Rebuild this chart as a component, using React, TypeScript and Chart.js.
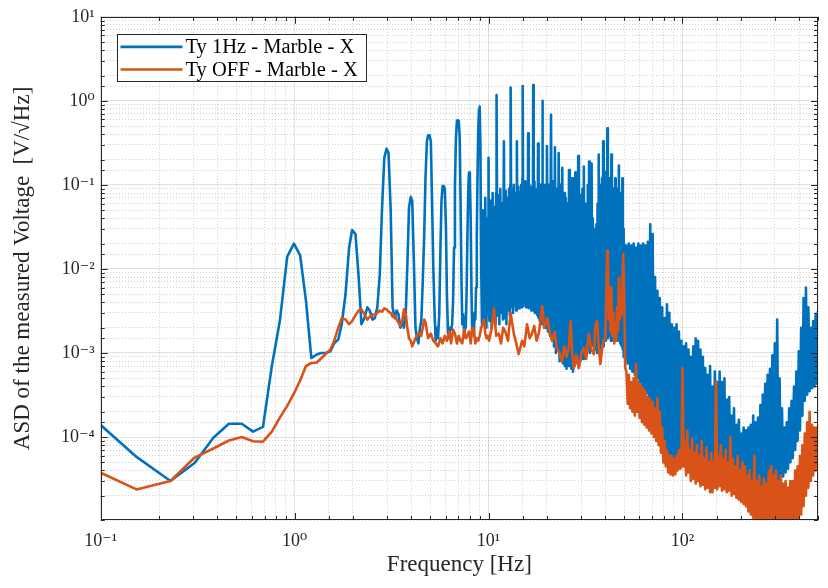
import React, { useEffect, useRef } from 'react';
import { Chart, registerables } from 'chart.js';

Chart.register(...registerables);

// ---------------- data (frequency [Hz], ASD [V/sqrt(Hz)]) ----------------
const seriesLabels = ['Ty 1Hz - Marble - X', 'Ty OFF - Marble - X'];
const seriesColors = ['#0072BD', '#D95319'];

const xTickValues = [0.1, 1, 10, 100];
const xTickLabels = ['10⁻¹', '10⁰', '10¹', '10²'];
const yTickValues = [1e-4, 1e-3, 1e-2, 1e-1, 1, 10];
const yTickLabels = ['10⁻⁴', '10⁻³', '10⁻²', '10⁻¹', '10⁰', '10¹'];

// Ty 1Hz, 0.1 - 9 Hz
const tyOnLow: [number, number][] = [
  [0.1, 1.39e-4], [0.153, 5.8e-5], [0.229, 3.0e-5], [0.305, 4.9e-5], [0.381, 9.8e-5], [0.458, 1.44e-4],
  [0.534, 1.44e-4], [0.61, 1.16e-4], [0.687, 1.32e-4], [0.763, 7.0e-4], [0.839, 2.4e-3], [0.916, 1.4e-2],
  [0.992, 2.0e-2], [1.068, 1.45e-2], [1.144, 4.2e-3], [1.22, 8.7e-4], [1.3, 9.6e-4], [1.37, 1.0e-3],
  [1.45, 1.0e-3], [1.53, 1.05e-3], [1.6, 1.3e-3], [1.68, 1.45e-3], [1.75, 2.2e-3], [1.83, 5.0e-3],
  [1.91, 1.8e-2], [1.98, 2.9e-2], [2.06, 2.6e-2], [2.14, 7.9e-3], [2.21, 2.2e-3], [2.29, 2.6e-3],
  [2.37, 3.5e-3], [2.44, 3.2e-3], [2.52, 2.5e-3], [2.59, 2.6e-3], [2.67, 3.5e-3], [2.75, 8.7e-3],
  [2.82, 4.9e-2], [2.9, 0.21], [2.98, 0.27], [3.05, 0.24], [3.13, 4.9e-2], [3.2, 3.5e-3],
  [3.28, 2.6e-3], [3.36, 3.2e-3], [3.43, 2.9e-3], [3.51, 2.0e-3], [3.59, 2.4e-3], [3.66, 2.0e-3],
  [3.74, 2.9e-3], [3.81, 1.04e-2], [3.89, 5.4e-2], [3.97, 7.2e-2], [4.04, 6.5e-2], [4.12, 1.25e-2],
  [4.2, 2.0e-3], [4.27, 1.5e-3], [4.35, 1.3e-3], [4.43, 2.0e-3], [4.5, 2.4e-3], [4.58, 7.2e-3],
  [4.66, 2.6e-2], [4.73, 0.12], [4.81, 0.33], [4.88, 0.39], [4.96, 0.39], [5.04, 0.33],
  [5.11, 7.0e-2], [5.19, 1.04e-2], [5.27, 2.9e-3], [5.34, 1.4e-3], [5.42, 2.0e-3], [5.49, 1.5e-3],
  [5.57, 2.9e-3], [5.65, 1.8e-2], [5.72, 6.5e-2], [5.8, 9.7e-2], [5.87, 9.7e-2], [5.95, 9.0e-2],
  [6.03, 3.1e-2], [6.1, 5.0e-3], [6.18, 1.7e-3], [6.26, 1.5e-3], [6.33, 2.0e-3], [6.41, 1.9e-3],
  [6.49, 2.2e-3], [6.56, 4.0e-3], [6.64, 1.8e-2], [6.71, 9.7e-2], [6.79, 0.36], [6.87, 0.58],
  [6.94, 0.59], [7.02, 0.58], [7.1, 0.36], [7.17, 7.0e-2], [7.25, 7.9e-3], [7.32, 2.2e-3],
  [7.4, 2.9e-3], [7.48, 1.8e-3], [7.55, 2.6e-3], [7.63, 2.0e-3], [7.71, 5.5e-3], [7.78, 2.4e-2],
  [7.86, 9.0e-2], [7.93, 0.14], [8.01, 0.13], [8.09, 4.0e-2], [8.17, 5.0e-3], [8.24, 1.8e-3],
  [8.32, 2.4e-3], [8.4, 1.6e-3], [8.47, 3.0e-3], [8.55, 2.5e-3], [8.62, 6.0e-3], [8.7, 2.5e-2],
  [8.77, 0.12], [8.85, 0.45], [8.93, 0.8], [9.0, 0.855], [9.08, 0.3],
];

// Ty 1Hz, harmonics of the 1 Hz excitation, 9 - 50 Hz
const tyOnHarmonics: [number, number][] = [
  [9.16, 1.2e-2], [9.25, 2.2e-3], [9.37, 5.0e-2], [9.5, 2.5e-3], [9.62, 7.0e-2], [9.75, 2.0e-3], [9.87, 4.0e-2], [9.94, 3.0e-3], [10.0, 0.21],
  [10.06, 3.0e-3], [10.12, 2.4e-3], [10.25, 6.5e-2], [10.37, 2.0e-3], [10.5, 8.0e-2], [10.62, 2.6e-3], [10.75, 5.5e-2], [10.87, 2.2e-3], [10.95, 8.0e-2], [11.0, 1.17],
  [11.06, 6.0e-2], [11.12, 2.8e-3], [11.25, 7.5e-2], [11.37, 2.2e-3], [11.5, 9.0e-2], [11.62, 3.0e-3], [11.75, 6.0e-2], [11.87, 2.5e-3], [12.0, 0.33],
  [12.12, 2.6e-3], [12.25, 8.5e-2], [12.37, 2.2e-3], [12.5, 7.0e-2], [12.62, 3.2e-3], [12.75, 9.0e-2], [12.87, 2.8e-3], [12.95, 0.1], [13.0, 1.44],
  [13.06, 8.0e-2], [13.12, 3.5e-3], [13.25, 9.0e-2], [13.37, 3.0e-3], [13.5, 0.1], [13.62, 3.6e-3], [13.75, 8.0e-2], [13.87, 3.2e-3], [14.0, 0.33],
  [14.12, 3.8e-3], [14.25, 9.5e-2], [14.37, 3.4e-3], [14.5, 8.0e-2], [14.62, 4.0e-3], [14.75, 0.1], [14.87, 3.5e-3], [14.95, 0.12], [15.0, 1.5],
  [15.06, 0.1], [15.12, 3.6e-3], [15.25, 9.0e-2], [15.37, 4.0e-3], [15.5, 0.11], [15.62, 3.5e-3], [15.75, 8.5e-2], [15.87, 3.8e-3], [16.0, 0.41],
  [16.12, 3.4e-3], [16.25, 0.1], [16.37, 3.8e-3], [16.5, 8.0e-2], [16.62, 3.2e-3], [16.75, 9.5e-2], [16.87, 3.6e-3], [16.95, 0.12], [17.0, 1.54],
  [17.06, 0.1], [17.12, 3.2e-3], [17.25, 0.11], [17.37, 3.0e-3], [17.5, 8.0e-2], [17.62, 3.4e-3], [17.75, 9.0e-2], [17.87, 2.8e-3], [18.0, 0.31],
  [18.12, 2.6e-3], [18.25, 9.0e-2], [18.37, 2.4e-3], [18.5, 0.1], [18.62, 2.8e-3], [18.75, 8.5e-2], [18.87, 2.2e-3], [18.95, 0.1], [19.0, 1.0],
  [19.06, 8.0e-2], [19.12, 2.2e-3], [19.25, 9.0e-2], [19.37, 2.0e-3], [19.5, 0.1], [19.62, 2.4e-3], [19.75, 8.0e-2], [19.87, 2.0e-3], [20.0, 0.29],
  [20.25, 1.8e-3], [20.5, 0.1], [20.75, 1.6e-3], [21.0, 0.68],
  [21.25, 1.4e-3], [21.5, 0.11], [21.75, 1.2e-3], [22.0, 0.28],
  [22.25, 1.0e-3], [22.5, 9.0e-2], [22.75, 1.1e-3], [23.0, 0.24],
  [23.25, 8.0e-4], [23.5, 0.1], [23.75, 9.0e-4], [24.0, 0.16],
  [24.25, 7.5e-4], [24.5, 8.0e-2], [24.75, 7.0e-4], [25.0, 7.0e-2],
  [25.25, 6.5e-4], [25.5, 6.0e-2], [25.75, 7.0e-4], [26.0, 0.15],
  [26.25, 7.0e-4], [26.5, 9.0e-2], [26.75, 6.5e-4], [27.0, 0.12],
  [27.25, 6.0e-4], [27.5, 8.0e-2], [27.75, 7.0e-4], [28.0, 0.14],
  [28.25, 8.0e-4], [28.5, 0.1], [28.75, 7.5e-4], [29.0, 0.22],
  [29.25, 7.0e-4], [29.5, 6.0e-2], [29.75, 8.0e-4], [30.0, 7.6e-2],
  [30.25, 9.0e-4], [30.5, 9.0e-2], [30.75, 8.5e-4], [31.0, 0.165],
  [31.25, 1.0e-3], [31.5, 5.0e-2], [31.75, 1.1e-3], [32.0, 6.0e-2],
  [32.25, 1.2e-3], [32.5, 0.1], [32.75, 1.1e-3], [33.0, 0.19],
  [33.25, 1.0e-3], [33.5, 0.11], [33.75, 1.2e-3], [34.0, 0.18],
  [34.25, 1.3e-3], [34.5, 4.0e-2], [34.75, 1.2e-3], [35.0, 2.0e-2],
  [35.25, 1.2e-3], [35.5, 3.0e-2], [35.75, 1.1e-3], [36.0, 3.4e-2],
  [36.25, 1.0e-3], [36.5, 6.0e-2], [36.75, 1.2e-3], [37.0, 0.23],
  [37.25, 1.1e-3], [37.5, 9.0e-2], [37.75, 1.3e-3], [38.0, 0.1],
  [38.25, 1.3e-3], [38.5, 0.12], [38.75, 1.2e-3], [39.0, 0.33],
  [39.25, 1.2e-3], [39.5, 0.1], [39.75, 1.4e-3], [40.0, 0.14],
  [40.25, 1.4e-3], [40.5, 0.12], [40.75, 1.5e-3], [41.0, 0.47],
  [41.25, 1.5e-3], [41.5, 0.1], [41.75, 1.6e-3], [42.0, 0.12],
  [42.25, 1.6e-3], [42.5, 9.0e-2], [42.75, 1.4e-3], [43.0, 0.23],
  [43.25, 1.4e-3], [43.5, 8.0e-2], [43.75, 1.5e-3], [44.0, 9.0e-2],
  [44.25, 1.5e-3], [44.5, 7.0e-2], [44.75, 1.6e-3], [45.0, 0.12],
  [45.25, 1.6e-3], [45.5, 8.0e-2], [45.75, 1.4e-3], [46.0, 9.0e-2],
  [46.25, 1.4e-3], [46.5, 7.0e-2], [46.75, 1.5e-3], [47.0, 0.17],
  [47.25, 1.5e-3], [47.5, 6.0e-2], [47.75, 1.3e-3], [48.0, 8.0e-2],
  [48.25, 1.3e-3], [48.5, 7.0e-2], [48.75, 1.2e-3], [49.0, 0.12],
  [49.25, 1.1e-3], [49.5, 3.0e-2], [49.75, 9.0e-4],
];

// Ty OFF, 0.1 - 10 Hz
const tyOffLow: [number, number][] = [
  [0.1, 3.76e-5], [0.153, 2.38e-5], [0.229, 3.0e-5], [0.305, 5.7e-5], [0.381, 7.3e-5], [0.458, 9.1e-5],
  [0.534, 1.0e-4], [0.61, 8.9e-5], [0.687, 8.8e-5], [0.763, 1.16e-4], [0.839, 1.7e-4], [0.916, 2.35e-4],
  [0.992, 3.3e-4], [1.068, 4.7e-4], [1.144, 7.0e-4], [1.22, 7.6e-4], [1.3, 7.7e-4], [1.37, 8.6e-4],
  [1.45, 9.8e-4], [1.53, 1.1e-3], [1.6, 1.4e-3], [1.68, 2.0e-3], [1.75, 2.6e-3], [1.83, 2.5e-3],
  [1.91, 2.2e-3], [1.98, 2.4e-3], [2.06, 2.8e-3], [2.14, 3.2e-3], [2.21, 3.3e-3], [2.29, 2.9e-3],
  [2.37, 2.5e-3], [2.44, 2.7e-3], [2.52, 2.9e-3], [2.59, 2.8e-3], [2.67, 3.0e-3], [2.75, 3.2e-3],
  [2.82, 3.1e-3], [2.9, 3.4e-3], [2.98, 3.3e-3], [3.05, 3.1e-3], [3.13, 3.0e-3], [3.2, 2.7e-3],
  [3.28, 2.8e-3], [3.36, 2.5e-3], [3.43, 2.3e-3], [3.51, 2.1e-3], [3.59, 2.4e-3], [3.66, 3.3e-3],
  [3.74, 3.0e-3], [3.81, 2.0e-3], [3.89, 1.5e-3], [3.97, 1.4e-3], [4.04, 1.2e-3], [4.2, 1.5e-3],
  [4.35, 1.7e-3], [4.5, 1.6e-3], [4.66, 2.5e-3], [4.73, 2.3e-3], [4.88, 1.5e-3], [5.04, 1.7e-3],
  [5.19, 1.4e-3], [5.34, 1.3e-3], [5.49, 1.2e-3], [5.65, 1.5e-3], [5.8, 1.3e-3], [5.95, 1.6e-3],
  [6.1, 1.4e-3], [6.26, 1.8e-3], [6.41, 1.3e-3], [6.56, 1.9e-3], [6.71, 1.7e-3], [6.87, 1.3e-3],
  [7.02, 1.6e-3], [7.17, 1.4e-3], [7.32, 1.3e-3], [7.48, 1.9e-3], [7.63, 1.5e-3], [7.78, 1.6e-3],
  [7.93, 1.8e-3], [8.09, 1.3e-3], [8.24, 2.0e-3], [8.4, 1.9e-3], [8.55, 1.3e-3], [8.7, 1.5e-3],
  [8.85, 1.4e-3], [9.0, 1.6e-3], [9.16, 2.0e-3], [9.31, 2.2e-3], [9.47, 2.5e-3], [9.62, 1.7e-3],
  [9.77, 1.5e-3], [9.92, 1.6e-3],
];

// Ty OFF, 10 - 50 Hz
const tyOffMid: [number, number][] = [
  [10.06, 1.4e-3], [10.4, 2.0e-3], [10.67, 3.4e-3], [10.95, 1.6e-3], [11.3, 1.7e-3], [11.6, 1.3e-3], [11.9, 2.0e-3],
  [12.2, 1.8e-3], [12.6, 1.4e-3], [13.0, 3.0e-3], [13.5, 1.7e-3], [13.9, 1.3e-3], [14.3, 9.7e-4], [14.9, 1.4e-3],
  [15.3, 1.2e-3], [15.8, 2.2e-3], [16.3, 1.5e-3], [16.75, 1.7e-3], [17.2, 2.1e-3], [17.7, 1.4e-3], [18.2, 1.75e-3],
  [18.9, 3.6e-3], [19.4, 2.0e-3], [20.1, 2.6e-3], [20.7, 1.7e-3], [21.3, 1.4e-3], [21.9, 1.8e-3], [22.5, 1.15e-3],
  [23.2, 1.0e-3], [23.9, 7.9e-4], [24.6, 1.2e-3], [25.2, 9.0e-4], [25.9, 1.15e-3], [26.5, 2.4e-3], [27.0, 1.0e-3],
  [27.5, 6.6e-4], [28.3, 9.5e-4], [29.2, 6.6e-4], [30.1, 1.0e-3], [31.0, 1.15e-3], [31.9, 8.5e-4], [32.9, 1.7e-3],
  [33.9, 1.1e-3], [34.9, 9.7e-4], [35.6, 2.2e-3], [36.3, 2.4e-3], [37.0, 1.2e-3], [37.7, 7.4e-4], [38.5, 1.1e-3],
  [39.2, 1.4e-3], [40.0, 1.5e-3], [40.5, 5.0e-3], [40.9, 1.64e-2], [41.3, 1.2e-2], [41.7, 2.5e-3], [42.1, 6.0e-3],
  [42.5, 1.8e-3], [43.0, 6.0e-3], [43.5, 1.6e-3], [44.0, 3.0e-3], [44.5, 1.3e-3], [45.0, 2.2e-3], [45.5, 1.4e-3],
  [46.0, 3.5e-3], [46.5, 1.8e-3], [47.0, 7.8e-3], [47.5, 2.5e-3], [48.0, 5.0e-3], [48.5, 2.8e-3], [49.0, 8.0e-3],
  [49.5, 1.5e-2],
];

// 50 - 500 Hz: common frequency grid for both measurements
const denseFreq: number[] = [
  50.0, 50.7, 51.4, 52.2, 52.9, 53.7, 54.4, 55.2, 56.0, 56.8,
  57.6, 58.4, 59.2, 60.1, 60.9, 61.8, 62.7, 63.6, 64.5, 65.4,
  66.3, 67.3, 68.2, 69.2, 70.2, 71.2, 72.2, 73.2, 74.3, 75.3,
  76.4, 77.5, 78.6, 79.7, 80.9, 82.0, 83.2, 84.4, 85.6, 86.8,
  88.1, 89.3, 90.6, 91.9, 93.2, 94.5, 95.9, 97.3, 98.7, 100.1,
  101.5, 102.9, 104.4, 105.9, 107.4, 109.0, 110.5, 112.1, 113.7, 115.3,
  117.0, 118.7, 120.4, 122.1, 123.8, 125.6, 127.4, 129.2, 131.1, 133.0,
  134.9, 136.8, 138.8, 140.7, 142.8, 144.8, 146.9, 149.0, 151.1, 153.3,
  155.5, 157.7, 160.0, 162.3, 164.6, 166.9, 169.3, 171.8, 174.2, 176.7,
  179.3, 181.8, 184.4, 187.1, 189.8, 192.5, 195.3, 198.1, 200.9, 203.8,
  206.7, 209.7, 212.7, 215.7, 218.8, 221.9, 225.1, 228.4, 231.6, 234.9,
  238.3, 241.7, 245.2, 248.7, 252.3, 255.9, 259.6, 263.3, 267.1, 270.9,
  274.8, 278.7, 282.7, 286.8, 290.9, 295.1, 299.3, 303.6, 308.0, 312.4,
  316.9, 321.4, 326.0, 330.7, 335.5, 340.3, 345.2, 350.1, 355.1, 360.2,
  365.4, 370.6, 376.0, 381.4, 386.8, 392.4, 398.0, 403.7, 409.5, 415.4,
  421.3, 427.4, 433.5, 439.7, 446.1, 452.5, 459.0, 465.5, 472.2, 479.0,
  485.9, 492.8, 499.9,
];

const tyOnDense: number[] = [
  2.0e-2, 8.0e-4, 1.9e-2, 7.5e-4, 2.0e-2, 6.5e-4, 1.9e-2, 6.0e-4, 2.0e-2, 5.5e-4,
  1.8e-2, 5.0e-4, 2.0e-2, 4.5e-4, 1.9e-2, 4.0e-4, 2.0e-2, 3.6e-4, 1.9e-2, 3.3e-4,
  2.1e-2, 2.8e-4, 3.4e-2, 2.5e-4, 2.6e-2, 1.9e-4, 8.0e-3, 1.6e-4, 5.5e-3, 1.4e-4,
  4.5e-3, 1.2e-4, 3.5e-3, 9.0e-5, 2.6e-3, 7.0e-5, 3.8e-3, 5.5e-5, 3.0e-3, 5.0e-5,
  2.2e-3, 5.0e-5, 2.0e-3, 5.0e-5, 2.2e-3, 4.8e-5, 1.8e-3, 4.5e-5, 1.4e-3, 4.5e-5,
  1.2e-3, 4.5e-5, 1.3e-3, 4.4e-5, 1.1e-3, 4.3e-5, 9.0e-4, 4.3e-5, 1.2e-3, 4.2e-5,
  1.5e-3, 4.2e-5, 1.4e-3, 4.0e-5, 1.1e-3, 4.0e-5, 9.0e-4, 3.8e-5, 6.6e-4, 3.7e-5,
  5.5e-4, 3.6e-5, 7.0e-4, 3.5e-5, 4.0e-4, 3.4e-5, 6.0e-4, 3.2e-5, 4.5e-4, 3.1e-5,
  6.0e-4, 3.0e-5, 4.5e-4, 2.8e-5, 5.0e-4, 2.6e-5, 2.8e-4, 2.5e-5, 3.0e-4, 2.4e-5,
  1.8e-4, 2.4e-5, 2.2e-4, 2.3e-5, 1.4e-4, 2.2e-5, 1.6e-4, 2.2e-5, 1.1e-4, 2.1e-5,
  1.3e-4, 2.1e-5, 1.2e-4, 2.0e-5, 1.3e-4, 2.0e-5, 1.4e-4, 1.9e-5, 1.8e-4, 1.9e-5,
  1.5e-4, 1.8e-5, 1.7e-4, 1.7e-5, 2.4e-4, 1.8e-5, 3.2e-4, 1.8e-5, 4.3e-4, 1.9e-5,
  5.5e-4, 2.0e-5, 6.5e-4, 2.1e-5, 9.4e-4, 2.2e-5, 1.3e-3, 2.4e-5, 2.5e-3, 2.6e-5,
  5.0e-4, 3.0e-5, 2.2e-4, 3.4e-5, 1.3e-4, 3.8e-5, 1.5e-4, 4.2e-5, 2.2e-4, 5.0e-5,
  2.7e-4, 5.6e-5, 4.0e-4, 7.0e-5, 6.0e-4, 9.0e-5, 1.05e-3, 1.2e-4, 2.0e-3, 1.8e-4,
  4.5e-3, 2.7e-4, 6.0e-3, 3.2e-4, 3.5e-3, 3.5e-4, 2.0e-3, 3.8e-4, 2.4e-3, 4.0e-4,
  2.8e-3, 4.3e-4, 3.2e-3,
];

const tyOffDense: number[] = [
  6.0e-3, 6.6e-4, 6.0e-4, 2.5e-4, 5.5e-4, 2.2e-4, 4.5e-4, 2.0e-4, 5.0e-4, 1.8e-4,
  7.4e-4, 2.0e-4, 4.5e-4, 1.7e-4, 4.2e-4, 1.5e-4, 3.8e-4, 1.4e-4, 3.5e-4, 1.3e-4,
  3.0e-4, 1.2e-4, 2.8e-4, 1.1e-4, 2.6e-4, 1.0e-4, 2.2e-4, 9.0e-5, 2.9e-4, 8.0e-5,
  2.0e-4, 6.5e-5, 1.3e-4, 5.0e-5, 9.0e-5, 4.5e-5, 7.0e-5, 3.8e-5, 6.0e-5, 3.6e-5,
  6.0e-5, 3.5e-5, 5.5e-5, 3.6e-5, 6.0e-5, 4.0e-5, 7.0e-5, 4.2e-5, 4.5e-5, 6.6e-4,
  4.5e-5, 9.0e-5, 3.5e-5, 1.2e-4, 3.8e-5, 7.0e-5, 3.0e-5, 9.5e-5, 3.2e-5, 6.5e-5,
  2.8e-5, 8.0e-5, 3.0e-5, 6.0e-5, 2.6e-5, 9.0e-5, 2.7e-5, 5.5e-5, 2.4e-5, 7.5e-5,
  2.5e-5, 5.0e-5, 2.2e-5, 6.5e-5, 2.2e-5, 5.0e-5, 2.5e-5, 4.6e-4, 2.4e-5, 6.0e-5,
  2.6e-5, 8.0e-5, 2.3e-5, 5.5e-5, 2.4e-5, 7.0e-5, 2.2e-5, 5.0e-5, 2.3e-5, 1.0e-4,
  2.0e-5, 5.5e-5, 2.1e-5, 4.5e-5, 1.9e-5, 6.0e-5, 1.8e-5, 4.0e-5, 1.7e-5, 5.0e-5,
  1.6e-5, 4.5e-5, 1.5e-5, 3.5e-5, 1.3e-5, 4.0e-5, 1.2e-5, 3.0e-5, 1.1e-5, 6.0e-5,
  1.0e-5, 3.0e-5, 1.0e-5, 3.5e-5, 9.5e-6, 2.6e-5, 9.0e-6, 3.2e-5, 9.0e-6, 2.8e-5,
  9.0e-6, 4.0e-5, 9.0e-6, 4.5e-5, 9.5e-6, 3.5e-5, 1.0e-5, 4.0e-5, 9.0e-6, 3.0e-5,
  9.0e-6, 3.5e-5, 9.0e-6, 2.8e-5, 8.5e-6, 3.0e-5, 9.0e-6, 2.5e-5, 9.0e-6, 3.0e-5,
  9.0e-6, 3.0e-5, 9.5e-6, 4.0e-5, 1.0e-5, 4.5e-5, 1.1e-5, 6.0e-5, 1.2e-5, 8.0e-5,
  1.5e-5, 1.1e-4, 2.0e-5, 1.5e-4, 2.5e-5, 2.0e-4, 3.0e-5, 1.4e-4, 3.5e-5, 1.3e-4,
  4.0e-5, 1.3e-4, 4.5e-5,
];

const X_MIN = 0.1;
const X_MAX = 500;
const Y_MIN = 1.03e-5;
const Y_MAX = 10;

// ---------------- helpers ----------------
const SERIF = '"Liberation Serif", "DejaVu Serif", serif';
const AXIS_COLOR = '#262626';

const isDecade = (v: number) => {
  const l = Math.log10(v);
  return Math.abs(l - Math.round(l)) < 1e-6;
};

const labelFor = (values: number[], labels: string[]) => (v: number | string) => {
  const n = Number(v);
  const i = values.findIndex((d) => Math.abs(Math.log10(d) - Math.log10(n)) < 1e-6);
  return i >= 0 ? labels[i] : '';
};

const zip = (xs: number[], ys: number[]): [number, number][] =>
  xs.slice(0, Math.min(xs.length, ys.length)).map((x, i) => [x, ys[i]]);

const toPoints = (...parts: [number, number][][]) =>
  parts.flat().map(([x, y]) => ({ x, y }));

const framePlugin = {
  id: 'matlabFrame',
  afterDatasetsDraw(chart: any) {
    const { ctx, chartArea } = chart;
    const { left, top, right, bottom } = chartArea;
    const xs = chart.scales.x;
    const ys = chart.scales.y;
    ctx.save();
    ctx.strokeStyle = AXIS_COLOR;
    ctx.lineWidth = 1;
    ctx.beginPath();
    xs.ticks.forEach((t: any) => {
      const p = Math.round(xs.getPixelForValue(t.value)) + 0.5;
      const len = isDecade(t.value) ? 7 : 4;
      ctx.moveTo(p, bottom);
      ctx.lineTo(p, bottom - len);
      ctx.moveTo(p, top);
      ctx.lineTo(p, top + len);
    });
    ys.ticks.forEach((t: any) => {
      const p = Math.round(ys.getPixelForValue(t.value)) + 0.5;
      const len = isDecade(t.value) ? 7 : 4;
      ctx.moveTo(left, p);
      ctx.lineTo(left + len, p);
      ctx.moveTo(right, p);
      ctx.lineTo(right - len, p);
    });
    ctx.stroke();
    ctx.strokeRect(Math.round(left) + 0.5, Math.round(top) + 0.5, Math.round(right - left) - 1, Math.round(bottom - top) - 1);

    // legend box (inside the axes, north-west)
    const lx = Math.round(left + 16.6) + 0.5;
    const ly = Math.round(top + 17.3) + 0.5;
    const lw = 249;
    const lh = 47;
    ctx.fillStyle = '#ffffff';
    ctx.fillRect(lx, ly, lw, lh);
    ctx.strokeStyle = AXIS_COLOR;
    ctx.lineWidth = 1;
    ctx.strokeRect(lx, ly, lw, lh);
    ctx.font = `20.5px ${SERIF}`;
    ctx.textBaseline = 'middle';
    ctx.textAlign = 'left';
    chart.data.datasets.forEach((ds: any, i: number) => {
      const yy = ly + 12.4 + i * 22.6;
      ctx.strokeStyle = ds.borderColor;
      ctx.lineWidth = 2.6;
      ctx.beginPath();
      ctx.moveTo(lx + 3, yy);
      ctx.lineTo(lx + 65, yy);
      ctx.stroke();
      ctx.fillStyle = '#000000';
      ctx.fillText(ds.label, lx + 68, yy + 1);
    });
    ctx.restore();
  },
};

export default function App() {
  const canvasRef = useRef<HTMLCanvasElement | null>(null);

  useEffect(() => {
    if (!canvasRef.current) return;
    const gridColor = (c: any) =>
      c.tick && isDecade(c.tick.value) ? 'rgba(38,38,38,0.14)' : 'rgba(38,38,38,0.22)';
    const gridDash = (c: any) => (c.tick && isDecade(c.tick.value) ? [] : [1, 2]);

    const chart = new Chart(canvasRef.current, {
      type: 'line',
      data: {
        datasets: [
          {
            label: seriesLabels[0],
            data: toPoints(tyOnLow, tyOnHarmonics, zip(denseFreq, tyOnDense)),
            borderColor: seriesColors[0],
            backgroundColor: seriesColors[0],
            borderWidth: 2.6,
            borderJoinStyle: 'round',
            pointRadius: 0,
            tension: 0,
            fill: false,
            order: 1,
          },
          {
            label: seriesLabels[1],
            data: toPoints(tyOffLow, tyOffMid, zip(denseFreq, tyOffDense)),
            borderColor: seriesColors[1],
            backgroundColor: seriesColors[1],
            borderWidth: 2.6,
            borderJoinStyle: 'round',
            pointRadius: 0,
            tension: 0,
            fill: false,
            order: 0,
          },
        ],
      },
      options: {
        animation: false,
        responsive: true,
        maintainAspectRatio: false,
        events: [],
        layout: { padding: { left: 0, right: 8, top: 16, bottom: 0 } },
        plugins: { legend: { display: false }, tooltip: { enabled: false } },
        scales: {
          x: {
            type: 'logarithmic',
            min: X_MIN,
            max: X_MAX,
            afterFit: (s: any) => {
              s.height = 68;
            },
            grid: { color: gridColor, lineWidth: 1, drawTicks: false },
            border: { display: false, dash: gridDash },
            ticks: {
              autoSkip: false,
              maxRotation: 0,
              padding: 10,
              color: AXIS_COLOR,
              font: { family: SERIF, size: 18 },
              callback: labelFor(xTickValues, xTickLabels),
            },
            title: {
              display: true,
              text: 'Frequency [Hz]',
              color: AXIS_COLOR,
              font: { family: SERIF, size: 23 },
              padding: { top: 0, bottom: 9 },
            },
          },
          y: {
            type: 'logarithmic',
            min: Y_MIN,
            max: Y_MAX,
            afterFit: (s: any) => {
              s.width = 100.7;
            },
            grid: { color: gridColor, lineWidth: 1, drawTicks: false },
            border: { display: false, dash: gridDash },
            ticks: {
              autoSkip: false,
              padding: 6,
              color: AXIS_COLOR,
              font: { family: SERIF, size: 18 },
              callback: labelFor(yTickValues, yTickLabels),
            },
            title: {
              display: true,
              text: 'ASD of the measured Voltage  [V/√Hz]',
              color: AXIS_COLOR,
              font: { family: SERIF, size: 23 },
              padding: { top: 9, bottom: 0 },
            },
          },
        },
      },
      plugins: [framePlugin],
    } as any);

    return () => chart.destroy();
  }, []);

  return (
    <div style={{ position: 'fixed', left: 0, top: 0, width: 828, height: 588, background: '#ffffff' }}>
      <canvas ref={canvasRef} />
    </div>
  );
}
